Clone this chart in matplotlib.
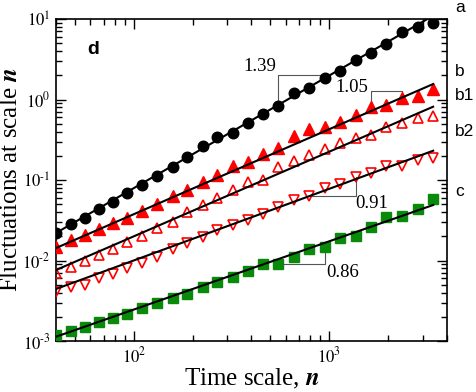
import numpy as np
import matplotlib
matplotlib.use("Agg")
import matplotlib.pyplot as plt
from matplotlib.ticker import FuncFormatter

plt.rcParams['font.family'] = ['Liberation Serif', 'DejaVu Serif']
plt.rcParams['mathtext.fontset'] = 'stix'

n = [40, 48, 56, 66, 78, 92, 110, 131, 158, 188, 225, 268, 320, 382, 460,
     549, 663, 790, 954, 1138, 1374, 1637, 1954, 2357, 2845, 3398]

# fluctuations for each curve
a_vals = [0.0221, 0.0284, 0.0337, 0.0436, 0.0537, 0.069, 0.0867, 0.113, 0.147,
          0.193, 0.264, 0.342, 0.384, 0.511, 0.670, 0.842, 1.205, 1.371, 1.85,
          2.26, 3.10, 3.78, 4.89, 6.90, 7.96, 8.91]
b_vals = [0.01483, 0.0180, 0.0208, 0.0246, 0.0295, 0.0337, 0.0416, 0.0504,
          0.0633, 0.0751, 0.0944, 0.115, 0.151, 0.169, 0.211, 0.252, 0.352,
          0.431, 0.455, 0.525, 0.641, 0.813, 0.854, 1.045, 1.105, 1.35]
b1_vals = [0.00705, 0.00837, 0.00994, 0.0117, 0.0139, 0.0171, 0.0201, 0.0255,
           0.0303, 0.0397, 0.0489, 0.0597, 0.0751, 0.0944, 0.100, 0.146, 0.174,
           0.205, 0.243, 0.288, 0.335, 0.362, 0.459, 0.511, 0.589, 0.624]
b2_vals = [0.00409, 0.00473, 0.00496, 0.00601, 0.00680, 0.00800, 0.00940,
           0.01114, 0.0139, 0.0164, 0.0194, 0.0239, 0.0276, 0.0318, 0.0378,
           0.0458, 0.0565, 0.0638, 0.0789, 0.0892, 0.110, 0.123, 0.149, 0.151,
           0.177, 0.189]
c_vals = [0.001188, 0.001343, 0.001507, 0.001706, 0.001914, 0.002147, 0.002548,
          0.002938, 0.003467, 0.003834, 0.004728, 0.005484, 0.006237, 0.00734,
          0.00906, 0.00912, 0.01104, 0.01402, 0.01459, 0.01905, 0.0200, 0.02585,
          0.03467, 0.03603, 0.04365, 0.05861]

# fitted lines: value at first and last n
fit_start = [0.0220, 0.01429, 0.00762, 0.00443, 0.00113]
fit_end = [11.0, 1.557, 0.814, 0.231, 0.0489]

# slope brackets: label, curve, first idx, second idx, level, label pos
slope_labels = ["1.39", "1.05", "0.91", "0.86"]
slope_curve = [0, 1, 3, 4]
slope_i = [15, 21, 17, 15]
slope_j = [18, 23, 20, 18]
slope_level = [2.0, 1.285, 0.0638, 0.00906]
slope_text_n = [440, 1309, 1656, 1165]
slope_text_y = [2.54, 1.43, 0.0518, 0.0070]

curve_names = ["a", "b", "b1", "b2", "c"]
curve_label_y = [7, 72, 95, 132, 191]  # pixel rows of right-side labels

series = [a_vals, b_vals, b1_vals, b2_vals, c_vals]
red = '#ff0000'
green = '#0a8a0a'
styles = [
    dict(marker='o', ms=7.6, mfc='black', mec='black'),
    dict(marker='^', ms=8.2, mfc=red, mec=red),
    dict(marker='^', ms=7.4, mfc='none', mec=red, mew=1.2),
    dict(marker='v', ms=7.4, mfc='none', mec=red, mew=1.2),
    dict(marker='s', ms=7.0, mfc=green, mec=green),
]

fig = plt.figure(figsize=(4.77, 3.92), dpi=100)
ax = fig.add_axes([0.1174, 0.1301, 0.8197, 0.8214])
ax.set_xscale('log')
ax.set_yscale('log')

for k, vals in enumerate(series):
    ax.plot(n, vals, ls='none', zorder=3, **styles[k])
    ax.plot([n[0], n[-1]], [fit_start[k], fit_end[k]], color='black', lw=1.5, zorder=4)

for lab, c, i, j, lev, tx, ty in zip(slope_labels, slope_curve, slope_i, slope_j,
                                     slope_level, slope_text_n, slope_text_y):
    vals = series[c]
    ax.plot([n[i], n[i], n[j], n[j]], [vals[i], lev, lev, vals[j]],
            color='#555555', lw=0.8, zorder=2)
    ax.text(tx, ty, lab, fontsize=13.5, ha='center', va='center')

ax.set_xlim(40, 4000)
ax.set_ylim(1e-3, 10)


def pow10(v, pos):
    e = int(round(np.log10(v)))
    if e < 0:
        return r'$10^{\text{-}%d}$' % (-e)
    return r'$10^{%d}$' % e


ax.xaxis.set_major_formatter(FuncFormatter(pow10))
ax.yaxis.set_major_formatter(FuncFormatter(pow10))

ax.tick_params(which='both', direction='in', top=True, right=True, width=1.0)
ax.tick_params(which='major', length=7, labelsize=12, pad=4)
ax.tick_params(which='minor', length=4)
for sp in ax.spines.values():
    sp.set_linewidth(1.2)

ax.set_xlabel(r"Time scale, $\mathbfit{n}$", fontsize=18, labelpad=0)
ax.set_ylabel(r"Fluctuations at scale $\mathbfit{n}$", fontsize=18)
ax.yaxis.set_label_coords(-0.088, 0.5)

ax.text(0.095, 0.904, "d", transform=ax.transAxes, fontsize=14, fontweight='bold',
        family='Liberation Sans', ha='center', va='center')

for name, py in zip(curve_names, curve_label_y):
    fig.text(455 / 477, 1 - py / 392, name, fontsize=12.5, family='Liberation Sans',
             ha='left', va='center')

fig.savefig("out.png", dpi=100)
